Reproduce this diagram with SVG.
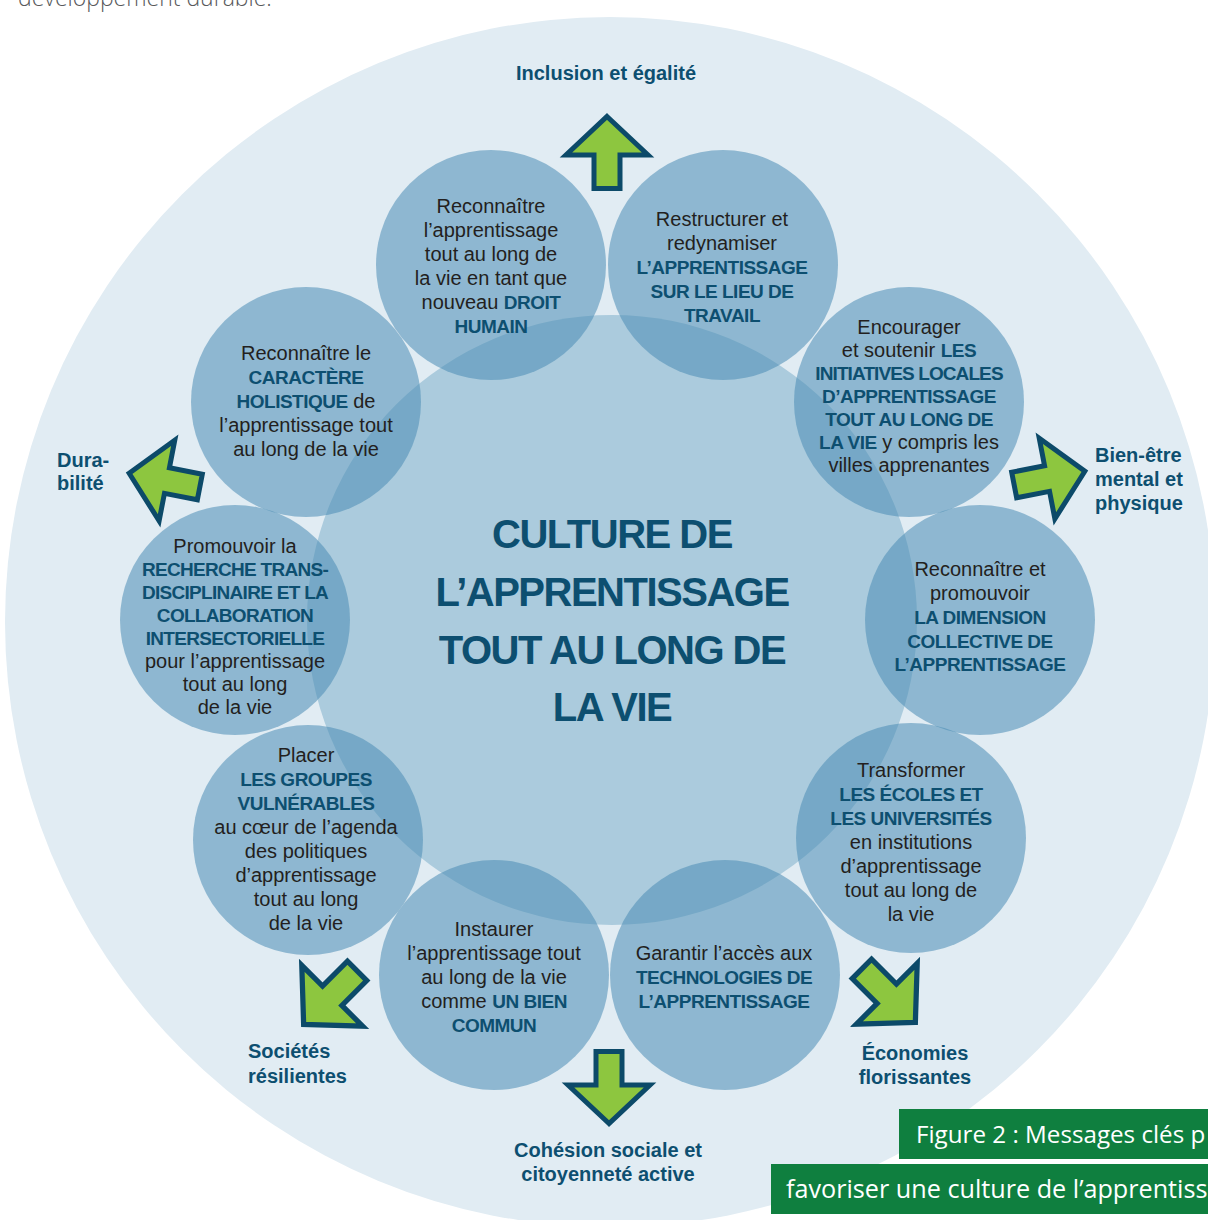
<svg xmlns="http://www.w3.org/2000/svg" width="1208" height="1220" viewBox="0 0 1208 1220">
<defs>
<style>
.t{font-family:"Liberation Sans",Arial,sans-serif;font-size:20px;fill:#231f20;text-anchor:middle}
.b{font-weight:700;font-size:19px;fill:#0d4f70;letter-spacing:-0.5px}
.c9 .b{letter-spacing:-0.7px}
.lbl{font-family:"Liberation Sans",Arial,sans-serif;font-size:20px;font-weight:700;fill:#0d4f70}
.title{font-family:"Liberation Sans",Arial,sans-serif;font-size:40px;font-weight:700;fill:#0d4f70;text-anchor:middle;letter-spacing:-1.5px}
.sc{fill:#4a8cb4;fill-opacity:0.55}
.arr{fill:#8dc63f;stroke:#0c4a69;stroke-width:5;stroke-linejoin:miter;stroke-miterlimit:10}
.cap{font-family:"Open Sans","Liberation Sans",sans-serif;font-size:25.2px;fill:#ffffff}
</style>
<path id="arrow" class="arr" d="M0,-35.5 L41,3 L13,3 L13,36.5 L-13,36.5 L-13,3 L-41,3 Z"/>
</defs>
<rect width="1208" height="1220" fill="#ffffff"/>
<text x="18" y="6" font-family="Open Sans, Liberation Sans, sans-serif" font-size="23" font-weight="300" fill="#58595b">développement durable.</text>
<circle id="background" cx="610" cy="622" r="605" fill="#e1ecf3"/>
<g id="centre">
<circle cx="612" cy="620" r="305" fill="#abcbdd"/>
</g>
<g id="circles">
<g id="n1"><circle class="sc" cx="491" cy="265" r="115"/>
<text class="t" x="491" y="213">Reconnaître</text>
<text class="t" x="491" y="237">l’apprentissage</text>
<text class="t" x="491" y="261">tout au long de</text>
<text class="t" x="491" y="285">la vie en tant que</text>
<text class="t" x="491" y="309">nouveau <tspan class="b">DROIT</tspan></text>
<text class="t" x="491" y="333"><tspan class="b">HUMAIN</tspan></text></g>
<g id="n2"><circle class="sc" cx="723" cy="265" r="115"/>
<text class="t" x="722" y="226">Restructurer et</text>
<text class="t" x="722" y="250">redynamiser</text>
<text class="t" x="722" y="274"><tspan class="b">L’APPRENTISSAGE</tspan></text>
<text class="t" x="722" y="298"><tspan class="b">SUR LE LIEU DE</tspan></text>
<text class="t" x="722" y="322"><tspan class="b">TRAVAIL</tspan></text></g>
<g id="n3"><circle class="sc" cx="909" cy="402" r="115"/>
<text class="t" x="909" y="334">Encourager</text>
<text class="t" x="909" y="357">et soutenir <tspan class="b">LES</tspan></text>
<text class="t" x="909" y="380"><tspan class="b" style="letter-spacing:-0.9px">INITIATIVES LOCALES</tspan></text>
<text class="t" x="909" y="403"><tspan class="b">D’APPRENTISSAGE</tspan></text>
<text class="t" x="909" y="426"><tspan class="b">TOUT AU LONG DE</tspan></text>
<text class="t" x="909" y="449"><tspan class="b">LA VIE</tspan> y compris les</text>
<text class="t" x="909" y="472">villes apprenantes</text></g>
<g id="n4"><circle class="sc" cx="980" cy="620" r="115"/>
<text class="t" x="980" y="576">Reconnaître et</text>
<text class="t" x="980" y="600">promouvoir</text>
<text class="t" x="980" y="624"><tspan class="b">LA DIMENSION</tspan></text>
<text class="t" x="980" y="648"><tspan class="b">COLLECTIVE DE</tspan></text>
<text class="t" x="980" y="671"><tspan class="b">L’APPRENTISSAGE</tspan></text></g>
<g id="n5"><circle class="sc" cx="911" cy="838" r="115"/>
<text class="t" x="911" y="777">Transformer</text>
<text class="t" x="911" y="801"><tspan class="b">LES ÉCOLES ET</tspan></text>
<text class="t" x="911" y="825"><tspan class="b">LES UNIVERSITÉS</tspan></text>
<text class="t" x="911" y="849">en institutions</text>
<text class="t" x="911" y="873">d’apprentissage</text>
<text class="t" x="911" y="897">tout au long de</text>
<text class="t" x="911" y="921">la vie</text></g>
<g id="n6"><circle class="sc" cx="725" cy="975" r="115"/>
<text class="t" x="724" y="960">Garantir l’accès aux</text>
<text class="t" x="724" y="984"><tspan class="b">TECHNOLOGIES DE</tspan></text>
<text class="t" x="724" y="1008"><tspan class="b">L’APPRENTISSAGE</tspan></text></g>
<g id="n7"><circle class="sc" cx="494" cy="975" r="115"/>
<text class="t" x="494" y="936">Instaurer</text>
<text class="t" x="494" y="960">l’apprentissage tout</text>
<text class="t" x="494" y="984">au long de la vie</text>
<text class="t" x="494" y="1008">comme <tspan class="b">UN BIEN</tspan></text>
<text class="t" x="494" y="1032"><tspan class="b">COMMUN</tspan></text></g>
<g id="n8"><circle class="sc" cx="308" cy="840" r="115"/>
<text class="t" x="306" y="762">Placer</text>
<text class="t" x="306" y="786"><tspan class="b">LES GROUPES</tspan></text>
<text class="t" x="306" y="810"><tspan class="b">VULNÉRABLES</tspan></text>
<text class="t" x="306" y="834">au cœur de l’agenda</text>
<text class="t" x="306" y="858">des politiques</text>
<text class="t" x="306" y="882">d’apprentissage</text>
<text class="t" x="306" y="906">tout au long</text>
<text class="t" x="306" y="930">de la vie</text></g>
<g id="n9" class="c9"><circle class="sc" cx="235" cy="620" r="115"/>
<text class="t" x="235" y="553">Promouvoir la</text>
<text class="t" x="235" y="576"><tspan class="b">RECHERCHE TRANS-</tspan></text>
<text class="t" x="235" y="599"><tspan class="b">DISCIPLINAIRE ET LA</tspan></text>
<text class="t" x="235" y="622"><tspan class="b">COLLABORATION</tspan></text>
<text class="t" x="235" y="645"><tspan class="b">INTERSECTORIELLE</tspan></text>
<text class="t" x="235" y="668">pour l’apprentissage</text>
<text class="t" x="235" y="691">tout au long</text>
<text class="t" x="235" y="714">de la vie</text></g>
<g id="n10"><circle class="sc" cx="306" cy="402" r="115"/>
<text class="t" x="306" y="360">Reconnaître le</text>
<text class="t" x="306" y="384"><tspan class="b">CARACTÈRE</tspan></text>
<text class="t" x="306" y="408"><tspan class="b">HOLISTIQUE</tspan> de</text>
<text class="t" x="306" y="432">l’apprentissage tout</text>
<text class="t" x="306" y="456">au long de la vie</text></g>
</g>
<g id="title">
<text class="title" x="612" y="548">CULTURE DE</text>
<text class="title" x="612" y="606">L’APPRENTISSAGE</text>
<text class="title" x="612" y="664">TOUT AU LONG DE</text>
<text class="title" x="612" y="721">LA VIE</text>
</g>
<g id="connectors">
<use href="#arrow" transform="translate(607,152)"/>
<use href="#arrow" transform="translate(1050,478) rotate(79)"/>
<use href="#arrow" transform="translate(889,996) rotate(135) scale(1.05)"/>
<use href="#arrow" transform="translate(609,1088) rotate(180)"/>
<use href="#arrow" transform="translate(330,998) rotate(225) scale(1.05)"/>
<use href="#arrow" transform="translate(164,480) rotate(281)"/>
</g>
<g id="outcomes">
<g id="o1"><text class="lbl" x="606" y="80" text-anchor="middle">Inclusion et égalité</text></g>
<g id="o2"><text class="lbl" x="1095" y="462">Bien-être</text><text class="lbl" x="1095" y="486">mental et</text><text class="lbl" x="1095" y="510">physique</text></g>
<g id="o3"><text class="lbl" x="915" y="1060" text-anchor="middle">Économies</text><text class="lbl" x="915" y="1084" text-anchor="middle">florissantes</text></g>
<g id="o4"><text class="lbl" x="608" y="1157" text-anchor="middle">Cohésion sociale et</text><text class="lbl" x="608" y="1181" text-anchor="middle">citoyenneté active</text></g>
<g id="o5"><text class="lbl" x="248" y="1058">Sociétés</text><text class="lbl" x="248" y="1083">résilientes</text></g>
<g id="o6"><text class="lbl" x="57" y="467">Dura-</text><text class="lbl" x="57" y="490">bilité</text></g>
</g>
<g id="caption">
<rect x="899" y="1109" width="320" height="50" fill="#0f7f3f"/>
<text class="cap" x="916" y="1143" style="font-size:24.2px">Figure 2 : Messages clés p</text>
<rect x="771" y="1164" width="450" height="50" fill="#0f7f3f"/>
<text class="cap" x="786" y="1198">favoriser une culture de l’apprentiss</text>
</g>
</svg>
